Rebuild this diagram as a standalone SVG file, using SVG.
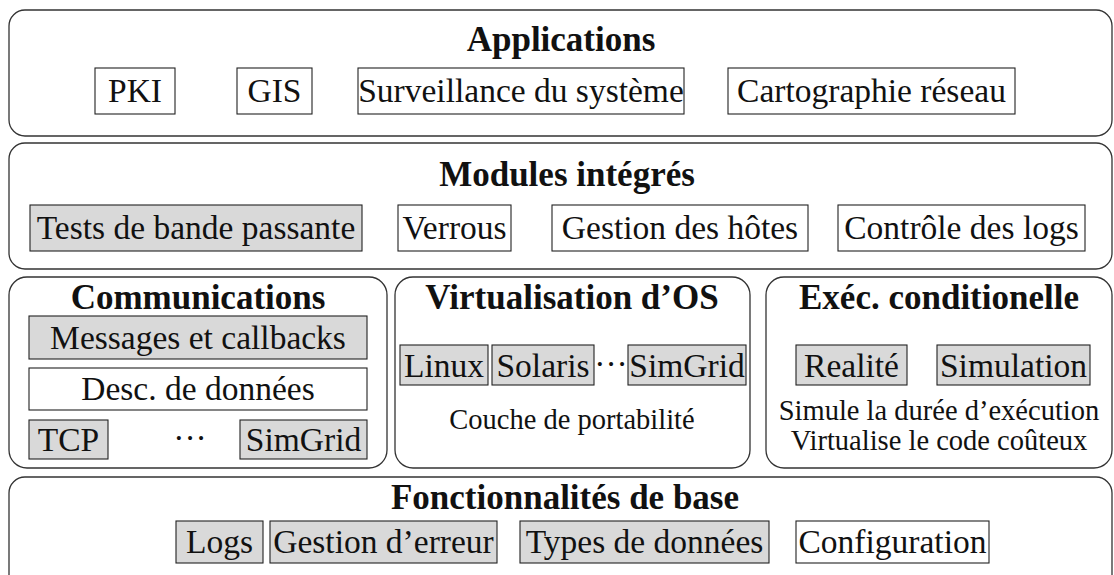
<svg xmlns="http://www.w3.org/2000/svg" width="1114" height="575" viewBox="0 0 1114 575">
<style>
.panel{fill:#fff;stroke:#333;stroke-width:1.3}
.box{fill:#fff;stroke:#222;stroke-width:1.1}
.gray{fill:#d9d9d9;stroke:#222;stroke-width:1.1}
.t{font-family:"Liberation Serif","Times New Roman",serif;font-size:33.5px;fill:#111;text-anchor:middle}
.s{font-family:"Liberation Serif","Times New Roman",serif;font-size:28.5px;fill:#111;text-anchor:middle}
.h{font-family:"Liberation Serif","Times New Roman",serif;font-size:35px;font-weight:bold;fill:#111;text-anchor:middle}
</style>
<rect width="1114" height="575" fill="#fff"/>
<g id="applications">
<rect class="panel" x="9" y="10" width="1103" height="126" rx="16"/>
<text class="h" x="561" y="51">Applications</text>
<g id="pki"><rect class="box" x="95" y="68" width="80" height="46"/><text class="t" x="135" y="102">PKI</text></g>
<g id="gis"><rect class="box" x="237" y="68" width="75" height="46"/><text class="t" x="274.5" y="102">GIS</text></g>
<g id="surveillance"><rect class="box" x="358" y="68" width="326" height="46"/><text class="t" x="521" y="102">Surveillance du système</text></g>
<g id="cartographie"><rect class="box" x="728" y="68" width="287" height="46"/><text class="t" x="871.5" y="102">Cartographie réseau</text></g>
</g>
<g id="modules">
<rect class="panel" x="9" y="143" width="1103" height="126" rx="16"/>
<text class="h" x="567" y="186">Modules intégrés</text>
<g id="tests"><rect class="gray" x="30" y="205" width="332" height="46"/><text class="t" x="196" y="239">Tests de bande passante</text></g>
<g id="verrous"><rect class="box" x="398" y="205" width="113" height="46"/><text class="t" x="454.5" y="239">Verrous</text></g>
<g id="hotes"><rect class="box" x="552" y="205" width="256" height="46"/><text class="t" x="680" y="239">Gestion des hôtes</text></g>
<g id="controle"><rect class="box" x="838" y="205" width="247" height="46"/><text class="t" x="961.5" y="239">Contrôle des logs</text></g>
</g>
<g id="communications">
<rect class="panel" x="9" y="277" width="378" height="191" rx="18"/>
<text class="h" x="198" y="309">Communications</text>
<g id="messages"><rect class="gray" x="29" y="316" width="338" height="43"/><text class="t" x="198" y="349">Messages et callbacks</text></g>
<g id="desc"><rect class="box" x="29" y="368" width="338" height="42"/><text class="t" x="198" y="400">Desc. de données</text></g>
<g id="tcp"><rect class="gray" x="29" y="420" width="79" height="39"/><text class="t" x="68.5" y="451">TCP</text></g>
<text class="t" x="190" y="449">···</text>
<g id="simgrid-comm"><rect class="gray" x="240" y="420" width="127" height="39"/><text class="t" x="303.5" y="451">SimGrid</text></g>
</g>
<g id="virtualisation">
<rect class="panel" x="395" y="277" width="355" height="191" rx="18"/>
<text class="h" x="572" y="309">Virtualisation d’OS</text>
<g id="linux"><rect class="gray" x="400" y="345" width="88" height="40"/><text class="t" x="444" y="377">Linux</text></g>
<g id="solaris"><rect class="gray" x="492" y="345" width="102" height="40"/><text class="t" x="543" y="377">Solaris</text></g>
<text class="t" x="611" y="375">···</text>
<g id="simgrid-os"><rect class="gray" x="628" y="345" width="118" height="40"/><text class="t" x="687" y="377">SimGrid</text></g>
<text class="s" x="572" y="429">Couche de portabilité</text>
</g>
<g id="execution">
<rect class="panel" x="766" y="277" width="346" height="191" rx="18"/>
<text class="h" x="939" y="309">Exéc. conditionelle</text>
<g id="realite"><rect class="gray" x="796" y="345" width="111" height="40"/><text class="t" x="851.5" y="377">Realité</text></g>
<g id="simulation"><rect class="gray" x="937" y="345" width="153" height="40"/><text class="t" x="1013.5" y="377">Simulation</text></g>
<text class="s" x="939" y="420">Simule la durée d’exécution</text>
<text class="s" x="939" y="450">Virtualise le code coûteux</text>
</g>
<g id="base">
<rect class="panel" x="9" y="477" width="1103" height="130" rx="16"/>
<text class="h" x="565" y="509">Fonctionnalités de base</text>
<g id="logs"><rect class="gray" x="176" y="521" width="87" height="42"/><text class="t" x="219.5" y="553">Logs</text></g>
<g id="erreur"><rect class="gray" x="270" y="521" width="227" height="42"/><text class="t" x="383.5" y="553">Gestion d’erreur</text></g>
<g id="types"><rect class="gray" x="520" y="521" width="249" height="42"/><text class="t" x="644.5" y="553">Types de données</text></g>
<g id="configuration"><rect class="box" x="796" y="521" width="193" height="42"/><text class="t" x="892.5" y="553">Configuration</text></g>
</g>
<g id="connectors"></g>
</svg>
